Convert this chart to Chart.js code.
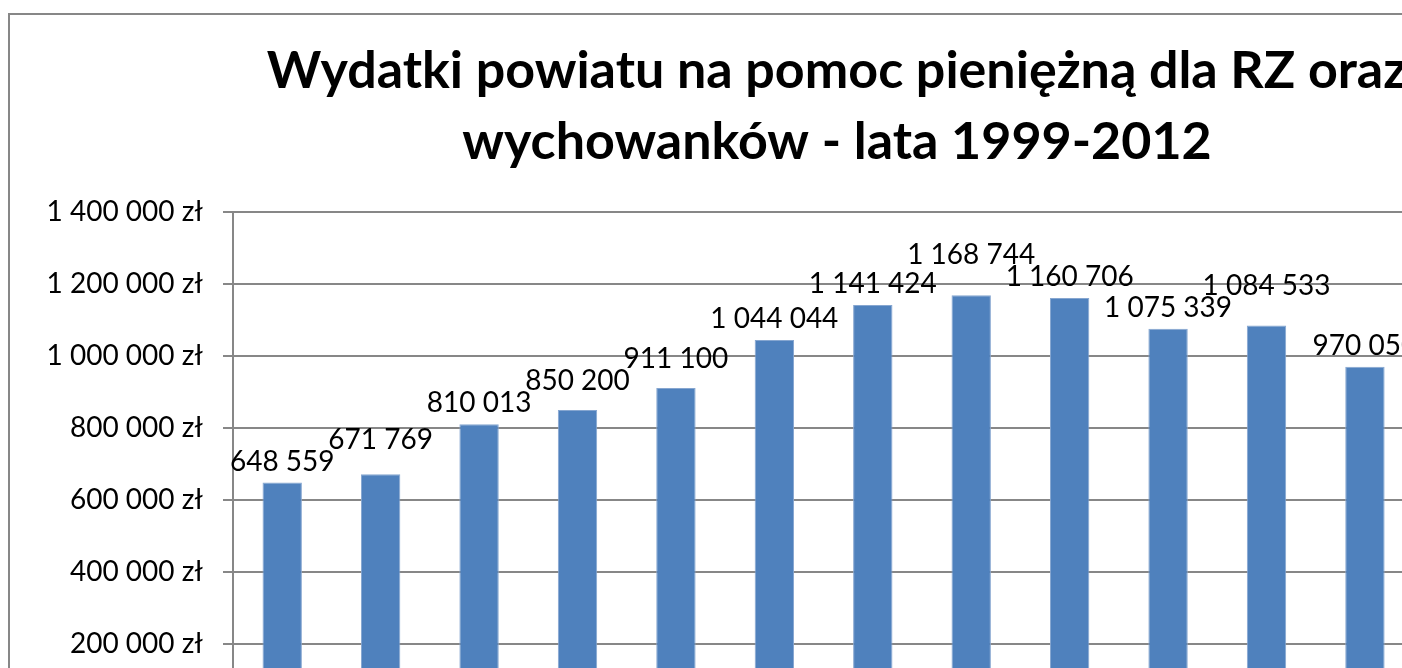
<!DOCTYPE html>
<html>
<head>
<meta charset="utf-8">
<script src="https://cdn.jsdelivr.net/npm/chart.js"></script>
<style>
  html, body { margin: 0; padding: 0; background: #fff; overflow: hidden; }
  #frame { position: absolute; left: 8px; top: 13px; border: 2px solid #878787; }
  canvas { display: block; }
</style>
</head>
<body>
<div id="frame"><canvas id="chart" width="1654" height="761"></canvas></div>
<script>
// lata 1999-2012, dwa ostatnie słupki są poza kadrem
const years = ['1999', '2000', '2001', '2002', '2003', '2004', '2005',
               '2006', '2007', '2008', '2009', '2010', '2011', '2012'];
const expenses = [648559, 671769, 810013, 850200, 911100, 1044044, 1141424,
                  1168744, 1160706, 1075339, 1084533, 970050, null, null];
const yTicks = [0, 200000, 400000, 600000, 800000, 1000000, 1200000, 1400000];
const titleLines = ['Wydatki powiatu na pomoc pieniężną dla RZ oraz',
                    'wychowanków - lata 1999-2012'];

const grey = '#878787';

function spaced(v) {
  return String(v).replace(/\B(?=(\d{3})+(?!\d))/g, ' ');
}

// etykiety nad słupkami, podnoszone gdy nachodzą na siebie
const barLabels = {
  id: 'barLabels',
  afterDatasetsDraw(chart) {
    const ctx = chart.ctx;
    const meta = chart.getDatasetMeta(0);
    const h = 20;
    ctx.save();
    ctx.font = '28px Lato';
    ctx.fillStyle = '#000';
    ctx.textAlign = 'center';
    ctx.textBaseline = 'alphabetic';
    const placed = [];
    const order = expenses.map((v, i) => i)
      .filter(i => expenses[i] != null)
      .sort((a, b) => expenses[a] - expenses[b]);
    order.forEach(i => {
      const bar = meta.data[i];
      const text = spaced(expenses[i]);
      const w = ctx.measureText(text).width;
      const box = { l: bar.x - w / 2, r: bar.x + w / 2, b: bar.y - 12 };
      let moved = true;
      while (moved) {
        moved = false;
        for (const p of placed) {
          if (box.l < p.r && box.r > p.l && box.b > p.b - h && box.b - h < p.b) {
            box.b = p.b - h - 2;
            moved = true;
          }
        }
      }
      placed.push(box);
      ctx.fillText(text, bar.x, box.b);
    });
    ctx.restore();
  }
};

new Chart(document.getElementById('chart'), {
  type: 'bar',
  data: {
    labels: years,
    datasets: [{
      data: expenses,
      backgroundColor: '#4F81BD',
      borderColor: '#86A6D0',
      borderWidth: 1,
      categoryPercentage: 0.4,
      barPercentage: 1
    }]
  },
  options: {
    responsive: false,
    animation: false,
    layout: { padding: { top: 0, right: 0, bottom: 10, left: 0 } },
    plugins: {
      legend: { display: false },
      tooltip: { enabled: false },
      title: {
        display: true,
        text: titleLines,
        color: '#000',
        font: { family: 'Lato', size: 52, weight: 'bold', lineHeight: 1.365 },
        padding: { top: 21, bottom: 34 }
      }
    },
    scales: {
      x: {
        grid: { display: false },
        border: { color: grey, width: 2 },
        ticks: { color: '#000', font: { family: 'Lato', size: 28 } },
        afterFit: s => { s.height = 50; }
      },
      y: {
        min: 0,
        max: 1400000,
        afterBuildTicks: s => { s.ticks = yTicks.map(v => ({ value: v })); },
        ticks: {
          color: '#000',
          padding: 20,
          font: { family: 'Lato', size: 28 },
          callback: v => spaced(v) + ' zł'
        },
        grid: { color: grey, lineWidth: 2, tickLength: 10 },
        border: { color: grey, width: 2 },
        afterFit: s => { s.width = 223; }
      },
      // pusty margines po prawej stronie obszaru wykresu
      yRight: {
        position: 'right',
        ticks: { display: false },
        grid: { display: false },
        border: { display: false },
        afterFit: s => { s.width = 53; }
      }
    }
  },
  plugins: [barLabels]
});
</script>
</body>
</html>
